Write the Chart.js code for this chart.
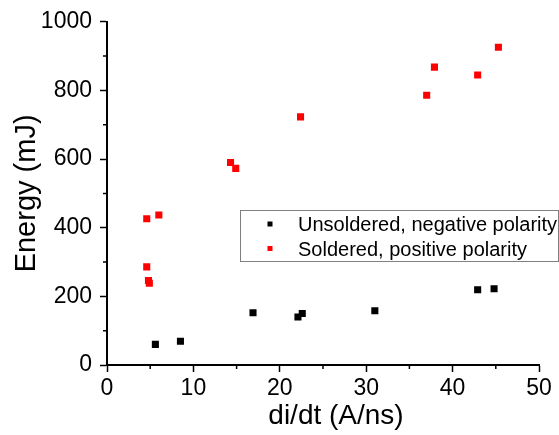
<!DOCTYPE html>
<html>
<head>
<meta charset="utf-8">
<script src="https://cdn.jsdelivr.net/npm/chart.js"></script>
<style>
  body { margin: 0; background: #fff; }
  canvas { display: block; }
</style>
</head>
<body>
<canvas id="energyChart" width="559" height="435"></canvas>
<script>
const seriesLabels = ['Unsoldered, negative polarity', 'Soldered, positive polarity'];
const seriesColors = ['#000000', '#ff0000'];

// di/dt (A/ns) and energy (mJ)
const unsolderedX = [5.6, 8.5, 16.9, 22.1, 22.6, 31.0, 42.9, 44.8];
const unsolderedY = [60, 69, 152, 140, 150, 158, 219, 222];
const solderedX = [4.6, 4.8, 4.9, 4.6, 6.0, 14.3, 14.9, 22.4, 37.0, 37.9, 42.9, 45.3];
const solderedY = [286, 246, 238, 426, 437, 590, 573, 723, 786, 868, 845, 926];

const xMinorTicks = [5, 15, 25, 35, 45];
const yMinorTicks = [100, 300, 500, 700, 900];
const xTitle = 'di/dt (A/ns)';
const yTitle = 'Energy (mJ)';

const FONT = '"Liberation Sans", Arial, sans-serif';

function toPoints(xs, ys) {
  return xs.map((x, i) => ({ x: x, y: ys[i] }));
}

// short outward minor ticks + x axis title (sits a bit right of centre)
const extras = {
  id: 'extras',
  afterDraw(chart) {
    const ctx = chart.ctx;
    const xs = chart.scales.x, ys = chart.scales.y;
    ctx.save();
    ctx.strokeStyle = '#000';
    ctx.lineWidth = 1.5;
    ctx.beginPath();
    xMinorTicks.forEach(v => {
      const px = xs.getPixelForValue(v);
      ctx.moveTo(px, xs.top);
      ctx.lineTo(px, xs.top + 4);
    });
    yMinorTicks.forEach(v => {
      const py = ys.getPixelForValue(v);
      ctx.moveTo(ys.right, py);
      ctx.lineTo(ys.right - 4, py);
    });
    ctx.stroke();

    ctx.fillStyle = '#000';
    ctx.font = '28px ' + FONT;
    ctx.textAlign = 'center';
    ctx.textBaseline = 'alphabetic';
    ctx.fillText(xTitle, 336, 424);
    ctx.restore();
  }
};

// boxed legend inside the plot area
const boxLegend = {
  id: 'boxLegend',
  afterDraw(chart) {
    const ctx = chart.ctx;
    ctx.save();
    ctx.strokeStyle = '#808080';
    ctx.lineWidth = 1;
    ctx.strokeRect(240.5, 210.5, 318, 51);
    ctx.font = '20px ' + FONT;
    ctx.textBaseline = 'alphabetic';
    chart.data.datasets.forEach((ds, i) => {
      const cy = 224 + i * 24.5;
      ctx.fillStyle = ds.backgroundColor;
      ctx.fillRect(267.5, cy - 2.5, 5, 5);
      ctx.fillStyle = '#000';
      ctx.fillText(ds.label, 298, cy + 7);
    });
    ctx.restore();
  }
};

new Chart(document.getElementById('energyChart').getContext('2d'), {
  type: 'scatter',
  data: {
    datasets: [
      {
        label: seriesLabels[0],
        data: toPoints(unsolderedX, unsolderedY),
        backgroundColor: seriesColors[0],
        borderColor: seriesColors[0],
        pointStyle: 'rect',
        pointRadius: 5,
        pointBorderWidth: 0
      },
      {
        label: seriesLabels[1],
        data: toPoints(solderedX, solderedY),
        backgroundColor: seriesColors[1],
        borderColor: seriesColors[1],
        pointStyle: 'rect',
        pointRadius: 5,
        pointBorderWidth: 0
      }
    ]
  },
  options: {
    responsive: false,
    animation: false,
    layout: { padding: { top: 17, right: 20, left: 0, bottom: 0 } },
    plugins: {
      legend: { display: false },
      tooltip: { enabled: false }
    },
    scales: {
      x: {
        type: 'linear',
        min: 0,
        max: 50,
        afterFit: s => { s.height = 70; },
        border: { display: true, color: '#000', width: 2 },
        grid: { drawOnChartArea: false, tickLength: 7, tickColor: '#000', tickWidth: 1.5 },
        ticks: { stepSize: 10, color: '#000', padding: 3, font: { family: FONT, size: 23 } }
      },
      y: {
        type: 'linear',
        min: 0,
        max: 1000,
        afterFit: s => { s.width = 107; },
        border: { display: true, color: '#000', width: 2 },
        grid: { drawOnChartArea: false, tickLength: 7, tickColor: '#000', tickWidth: 1.5 },
        ticks: {
          stepSize: 200,
          color: '#000',
          padding: 8,
          font: { family: FONT, size: 23 },
          callback: v => String(v)
        },
        title: {
          display: true,
          text: yTitle,
          color: '#000',
          padding: { top: 10, bottom: 0 },
          font: { family: FONT, size: 29 }
        }
      }
    }
  },
  plugins: [extras, boxLegend]
});
</script>
</body>
</html>
